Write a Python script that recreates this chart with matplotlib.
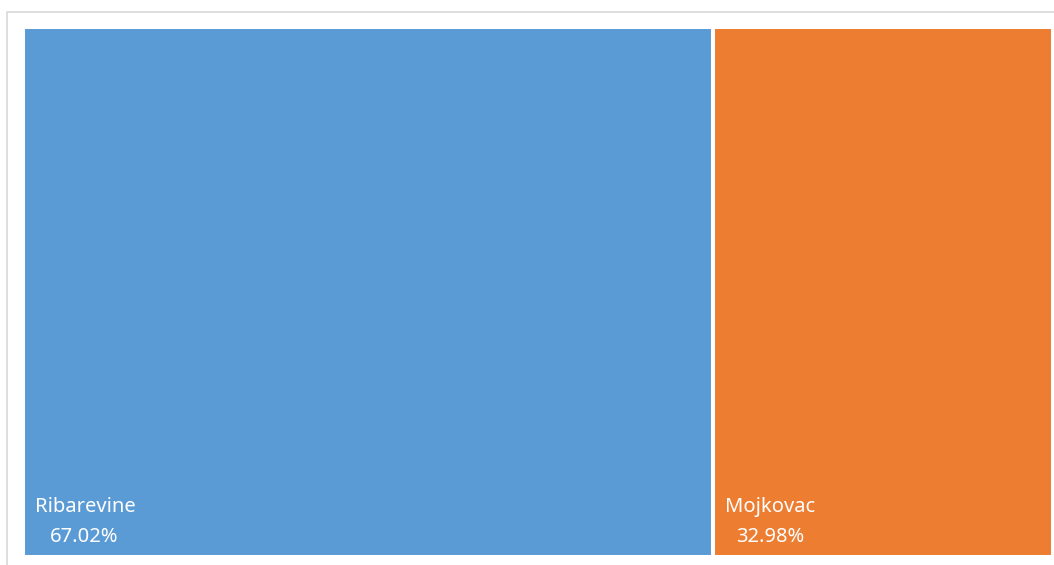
import numpy as np
import matplotlib
matplotlib.use("Agg")
from matplotlib import pyplot as plt
from matplotlib.patches import Rectangle

plt.rcParams["font.family"] = ["Noto Sans", "DejaVu Sans"]

regions = ["Ribarevine", "Mojkovac"]
shares = [67.02, 32.98]
colors = ["#5B9BD5", "#ED7D31"]

W, H = 1054, 565
fig = plt.figure(figsize=(W / 100, H / 100), dpi=100)

# light grey outer frame (cut off at right and bottom)
fig.patches.append(Rectangle((7 / W, -0.1), 1.2, 1 - 12 / H + 0.1,
                             transform=fig.transFigure, fill=False,
                             edgecolor="#d9d9d9", linewidth=1.2))

# axes a bit larger than the tiles: the white edges eat 2px on each side
ax = fig.add_axes([23 / W, 8 / H, (1053 - 23) / W, (557 - 27) / H])
left = np.concatenate([[0], np.cumsum(shares)[:-1]])
ax.bar(left, 1, width=shares, align="edge", color=colors,
       edgecolor="white", linewidth=2.9)
ax.set_xlim(0, sum(shares))
ax.set_ylim(0, 1)
ax.axis("off")

pct_dx = [27, 23]
for name, l, s, dx in zip(regions, left, shares, pct_dx):
    ax.annotate(name, xy=(l, 0), xytext=(12, 45), textcoords="offset pixels",
                color="white", fontsize=14.5, va="baseline", ha="left")
    ax.annotate(f"{s:.2f}%", xy=(l, 0), xytext=(dx, 15), textcoords="offset pixels",
                color="white", fontsize=14.5, va="baseline", ha="left")

fig.savefig("out.png", dpi=100)
